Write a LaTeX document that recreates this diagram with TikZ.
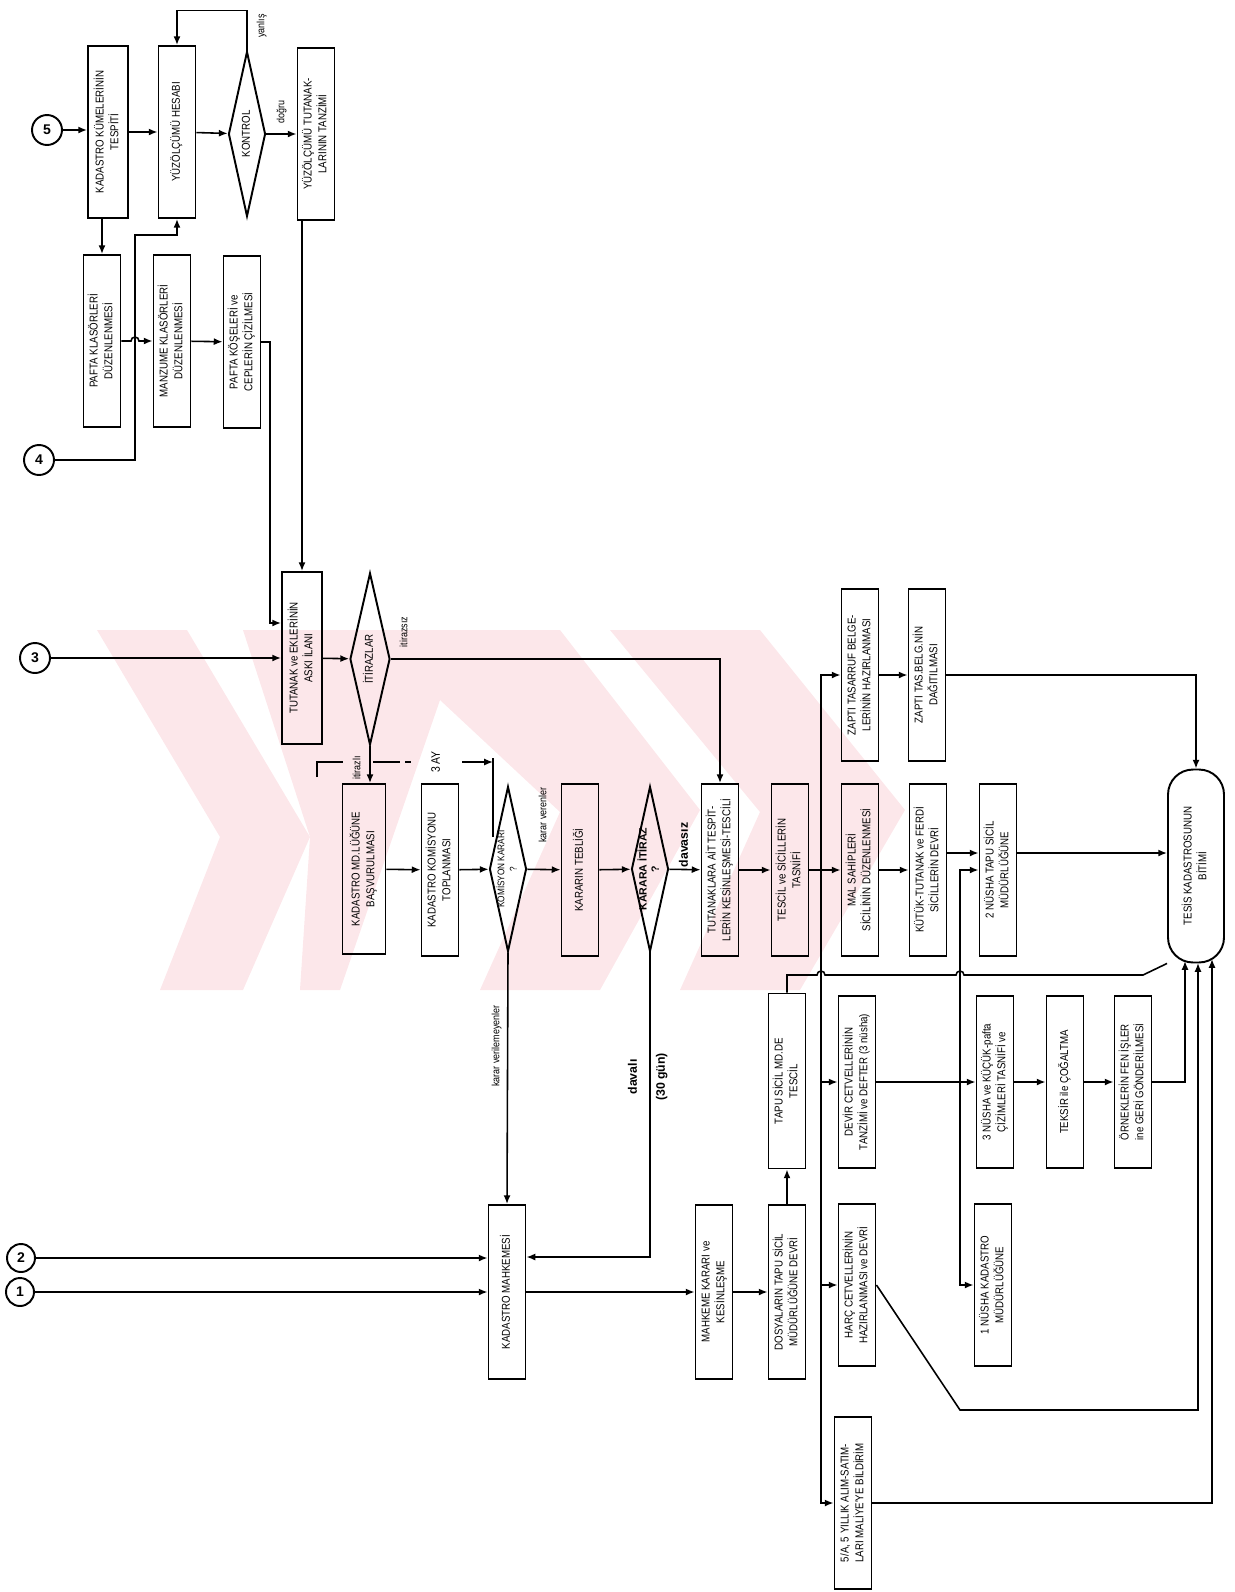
\documentclass[tikz,border=0pt]{standalone}
\usepackage{fontspec,graphicx}
\setmainfont{Liberation Sans}
\newfontfamily\kutufont[FakeStretch=0.85]{Liberation Sans}
\usetikzlibrary{arrows.meta,shapes.geometric,calc}
\definecolor{wmpink}{RGB}{252,231,234}
\newcommand{\dik}[1]{\rotatebox{90}{\begin{tabular}{@{}c@{}}#1\end{tabular}}}

\begin{document}
\begin{tikzpicture}[x=0.02cm,y=-0.02cm,>={Latex[length=5pt,width=4pt]},
    kutu/.style={draw,line width=1.1pt,minimum width=0.74cm,minimum height=3.44cm,inner sep=1pt,font=\kutufont\fontsize{6.5}{8.5}\selectfont},
    karar/.style={draw,diamond,line width=1.1pt,shape aspect=0.21,minimum width=0.74cm,minimum height=3.3cm,inner sep=0pt},
    bag/.style={draw,circle,line width=1.1pt,minimum size=0.6cm,inner sep=0pt,font=\bfseries\footnotesize},
    etiket/.style={inner sep=1pt,font=\kutufont\fontsize{6}{7}\selectfont},
    el/.style={inner sep=1pt,font=\bfseries\fontsize{7}{8}\selectfont},
    ok/.style={->,line width=0.9pt},
    wm/.style={fill=wmpink},
    every label/.style={font=\kutufont\fontsize{5.5}{7}\selectfont}]
  \useasboundingbox (0,0) rectangle (1234,1592);

  \fill[wm] (97,630) -- (187,630) -- (310,837) -- (243,990) -- (160,990) -- (220,837) -- cycle;
  \fill[wm] (243,630) -- (560,630) -- (700,810) -- (600,990) -- (480,990) -- (560,812) -- (440,700) -- (340,990) -- (300,990) -- (310,837) -- cycle;
  \fill[wm] (610,630) -- (760,630) -- (905,810) -- (800,990) -- (680,990) -- (760,812) -- cycle;

  \node[bag] (c5) at (47,130) {5};
  \node[kutu,minimum width=0.8cm] (kume) at (108,132) {\dik{KADASTRO KÜMELERİNİN\\TESPİTİ}};
  \node[kutu] (yuz) at (177,132) {\dik{YÜZÖLÇÜMÜ HESABI}};
  \node[karar,label={[font=\kutufont\fontsize{6.5}{8}\selectfont]center:\dik{KONTROL}}] (kontrol) at (247,134) {};
  \node[kutu] (yuztut) at (316,134) {\dik{YÜZÖLÇÜMÜ TUTANAK-\\LARININ TANZİMİ}};
  \node[kutu] (paftakl) at (102,341) {\dik{PAFTA KLASÖRLERİ\\DÜZENLENMESİ}};
  \node[kutu] (manzume) at (172,341) {\dik{MANZUME KLASÖRLERİ\\DÜZENLENMESİ}};
  \node[kutu] (kose) at (242,342) {\dik{PAFTA KÖŞELERİ ve\\CEPLERİN ÇİZİLMESİ}};
  \node[bag] (c4) at (39,460) {4};
  \node[bag] (c3) at (35,658) {3};
  \node[kutu,minimum width=0.8cm] (tutanak) at (302,658) {\dik{TUTANAK ve EKLERİNİN\\ASKI İLANI}};
  \node[karar,minimum width=0.8cm,minimum height=3.44cm,label={[font=\kutufont\fontsize{6.5}{8}\selectfont]center:\dik{İTİRAZLAR}}] (itiraz) at (370,659) {};
  \node[kutu,minimum width=0.86cm,minimum height=3.4cm] (kadmd) at (364,869) {\dik{KADASTRO MD.LÜĞÜNE\\BAŞVURULMASI}};
  \node[kutu] (komtop) at (440,870) {\dik{KADASTRO KOMİSYONU\\TOPLANMASI}};
  \node[karar,label=center:\dik{KOMİSYON KARARI\\?}] (komkarar) at (508,869) {};
  \node[kutu] (teblig) at (580,870) {\dik{KARARIN TEBLİĞİ}};
  \node[karar,label={[font=\bfseries\fontsize{6}{7}\selectfont]center:\dik{KARARA İTİRAZ\\?}}] (karitiraz) at (650,869) {};
  \node[kutu] (tespit) at (720,870) {\dik{TUTANAKLARA AİT TESPİT-\\LERİN KESİNLEŞMESİ-TESCİLİ}};
  \node[kutu] (tescil) at (790,870) {\dik{TESCİL ve SİCİLLERİN\\TASNİFİ}};
  \node[kutu] (malsah) at (860,870) {\dik{MAL SAHİPLERİ\\SİCİLİNİN DÜZENLENMESİ}};
  \node[kutu] (kutuk) at (928,870) {\dik{KÜTÜK-TUTANAK ve FERDİ\\SİCİLLERİN DEVRİ}};
  \node[kutu] (nusha2) at (998,870) {\dik{2 NÜSHA TAPU SİCİL\\MÜDÜRLÜĞÜNE}};
  \node[kutu] (zapti) at (860,675) {\dik{ZAPTI TASARRUF BELGE-\\LERİNİN HAZIRLANMASI}};
  \node[kutu] (dagit) at (927,675) {\dik{ZAPTI TAS.BELG.NİN\\DAĞITILMASI}};
  \node[draw,line width=1.1pt,rounded corners=0.5cm,minimum width=1.12cm,minimum height=3.86cm,font=\kutufont\fontsize{6.5}{8.5}\selectfont] (bitim) at (1196,866) {\dik{TESİS KADASTROSUNUN\\BİTİMİ}};
  \node[kutu,minimum height=3.5cm] (tapusicil) at (787,1081) {\dik{TAPU SİCİL MD.DE\\TESCİL}};
  \node[kutu] (devir) at (857,1082) {\dik{DEVİR CETVELLERİNİN\\TANZİMİ ve DEFTER (3 nüsha)}};
  \node[kutu] (nusha3) at (995,1082) {\dik{3 NÜSHA ve KÜÇÜK-pafta\\ÇİZİMLERİ TASNİFİ ve}};
  \node[kutu] (teksir) at (1065,1082) {\dik{TEKSİR ile ÇOĞALTMA}};
  \node[kutu] (ornek) at (1133,1082) {\dik{ÖRNEKLERİN FEN İŞLER\\ine GERİ GÖNDERİLMESİ}};
  \node[kutu,minimum height=3.24cm] (harc) at (857,1285) {\dik{HARÇ CETVELLERİNİN\\HAZIRLANMASI ve DEVRİ}};
  \node[kutu,minimum height=3.24cm] (nusha1) at (993,1285) {\dik{1 NÜSHA KADASTRO\\MÜDÜRLÜĞÜNE}};
  \node[kutu] (sira) at (853,1503) {\dik{5/A, 5 YILLIK ALIM-SATIM-\\LARI MALİYE'YE BİLDİRİM}};
  \node[kutu,minimum height=3.48cm] (mahkeme) at (507,1292) {\dik{KADASTRO MAHKEMESİ}};
  \node[kutu,minimum height=3.48cm] (mkarar) at (714,1292) {\dik{MAHKEME KARARI ve\\KESİNLEŞME}};
  \node[kutu,minimum height=3.48cm] (dosya) at (787,1292) {\dik{DOSYALARIN TAPU SİCİL\\MÜDÜRLÜĞÜNE DEVRİ}};
  \node[bag,minimum size=0.56cm] (c2) at (21,1258) {2};
  \node[bag,minimum size=0.56cm] (c1) at (20,1292) {1};

  \node[etiket] (l1) at (262,26) {\dik{yanlış}};
  \node[etiket] (l2) at (282,112) {\dik{doğru}};
  \node[etiket] (l3) at (405,632) {\dik{itirazsız}};
  \node[etiket] (l4) at (358,768) {\dik{itirazlı}};
  \node[etiket,font=\kutufont\fontsize{7}{8}\selectfont] (l5) at (437,762) {\dik{3 AY}};
  \node[etiket] (l6) at (544,815) {\dik{karar verenler}};
  \node[etiket] (l7) at (497,1046) {\dik{karar verilemeyenler}};
  \node[el] (l8) at (685,845) {\dik{davasız}};
  \node[el] (l9) at (634,1077) {\dik{davalı}};
  \node[el] (l10) at (662,1077) {\dik{(30 gün)}};

  \coordinate (k4) at (135,235);
  \coordinate (kk) at (270,623);
  \coordinate (j1) at (821,870);
  \coordinate (j2) at (960,1082);
  \coordinate (b2) at (1185,961);
  \coordinate (b3) at (1198,963);
  \coordinate (b4) at (1212,959);

  \draw[ok] (c5) -- (c5 -| kume.west);
  \draw[ok] (kume) -- (yuz);
  \draw[ok] (yuz) -- (kontrol);
  \draw[ok] (kontrol) -- (yuztut);
  \draw[ok] (kontrol.north) -- ++(0,-40) -| (yuz.north);
  \draw[ok] (paftakl.north |- kume.south) -- (paftakl.north);
  \draw[ok] (c4) -| (k4) -| (yuz.south);
  \draw[ok] (paftakl.east) -- (131,341) arc[start angle=180,end angle=0,radius=0.08cm] -- (manzume.west);
  \draw[ok] (manzume) -- (kose);
  \draw[ok] (kose.east) -| (kk) -- (kk -| tutanak.west);
  \draw[ok] (tutanak.north |- yuztut.south) -- (tutanak.north);
  \draw[ok] (c3) -- (tutanak);
  \draw[ok] (tutanak) -- (itiraz);
  \draw[ok] (itiraz.east) -| (tespit.north);
  \draw[ok] (itiraz.south) -- (itiraz.south |- kadmd.north);
  \draw[ok] (kadmd) -- (komtop);
  \draw[ok] (komtop) -- (komkarar);
  \draw[ok] (komkarar) -- (teblig);
  \draw[ok] (teblig) -- (karitiraz);
  \draw[ok] (karitiraz) -- (tespit);
  \draw[ok] (tespit) -- (tescil);
  \draw[ok] (tescil) -- (malsah);
  \draw[ok] (malsah) -- (kutuk);
  \draw[ok] (kutuk.east |- 0,853) -- (nusha2.west |- 0,853);
  \draw[ok] (nusha2.east |- 0,853) -- (bitim.west |- 0,853);
  \draw[ok] (j1) |- (zapti.west);
  \draw[ok] (j1) |- (devir.west);
  \draw[ok] (j1) |- (harc.west);
  \draw[ok] (j1) |- (sira.west);
  \draw[ok] (zapti) -- (dagit);
  \draw[ok] (dagit.east) -| (bitim.north);
  \draw[ok] (devir) -- (nusha3);
  \draw[ok] (nusha3) -- (teksir);
  \draw[ok] (teksir) -- (ornek);
  \draw[ok] (j2) |- (nusha2.west);
  \draw[ok] (j2) |- (nusha1.west);
  \draw[ok] (ornek.east) -| (b2);
  \draw[ok] (harc.east) -- (960,1410) -| (b3);
  \draw[ok] (sira.east) -| (b4);
  \draw[ok] (dosya) -- (tapusicil);
  \draw[line width=0.9pt] (tapusicil.north) |- (817,975) arc[start angle=180,end angle=0,radius=0.08cm] -- (956,975) arc[start angle=180,end angle=0,radius=0.08cm] -- (1143,975) -- (bitim.south west);
  \draw[ok] (c2) -- (c2 -| mahkeme.west);
  \draw[ok] (c1) -- (mahkeme);
  \draw[ok] (mahkeme) -- (mkarar);
  \draw[ok] (mkarar) -- (dosya);
  \draw[ok] (komkarar.south) -- (mahkeme.north);
  \draw[ok] (karitiraz.south) |- (mahkeme.east |- 0,1257);

  \draw[line width=0.9pt] (317,777) -- (317,762) -- (343,762);
  \draw[line width=0.9pt] (373,762) -- (400,762) (405,762) -- (411,762);
  \draw[ok] (462,762) -- (493,762);
  \draw[line width=0.9pt] (493,758) -- (493,837);
\end{tikzpicture}
\end{document}
